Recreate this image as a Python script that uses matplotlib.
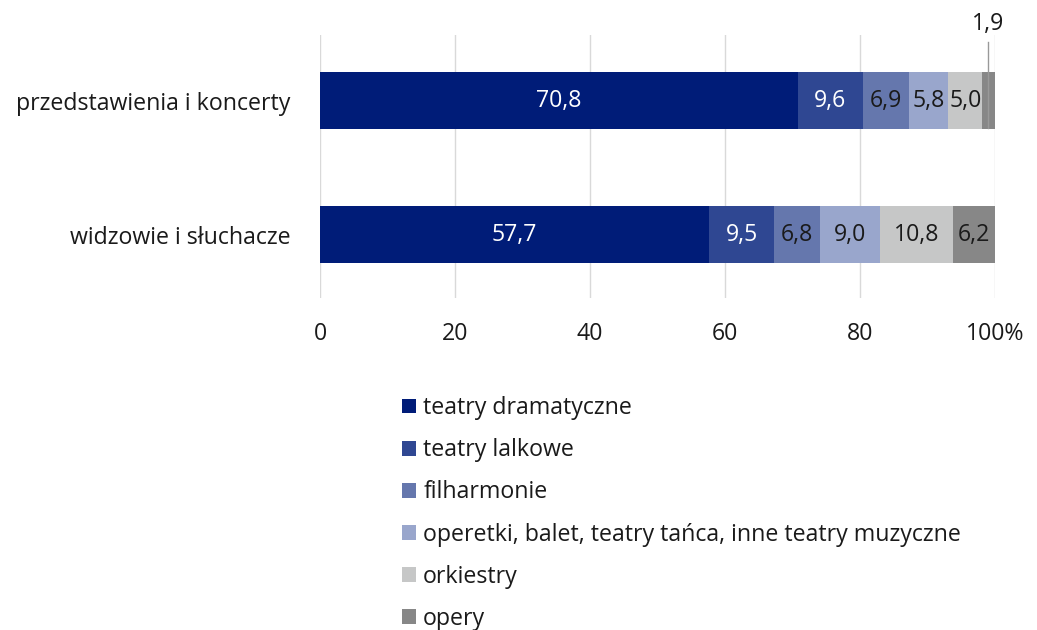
import matplotlib
matplotlib.use("Agg")
import matplotlib.pyplot as plt
from matplotlib.patches import Patch

categories = ["przedstawienia i koncerty", "widzowie i słuchacze"]
series = ["teatry dramatyczne", "teatry lalkowe", "filharmonie",
          "operetki, balet, teatry tańca, inne teatry muzyczne", "orkiestry", "opery"]
values = [
    [70.8, 57.7],
    [9.6, 9.5],
    [6.9, 6.8],
    [5.8, 9.0],
    [5.0, 10.8],
    [1.9, 6.2],
]
colors = ["#001c78", "#2f4792", "#6577ad", "#99a6cc", "#c6c7c7", "#878787"]
text_colors = ["white", "white", "#1a1a1a", "#1a1a1a", "#1a1a1a", "#1a1a1a"]
xticks = [0, 20, 40, 60, 80, 100]
xticklabels = ["0", "20", "40", "60", "80", "100%"]

FS = 16.7
plt.rcParams['font.family'] = ['Open Sans', 'DejaVu Sans']
fig = plt.figure(figsize=(10.37, 6.3), dpi=100)
ax = fig.add_axes([320/1037, 1-298/630, 675/1037, 263/630])

ypos = [0, 1]
left = [0.0, 0.0]
bh = 0.425
for i, (name, vals) in enumerate(zip(series, values)):
    ax.barh(ypos, vals, left=left, height=bh, color=colors[i], label=name, zorder=3)
    for j, v in enumerate(vals):
        cx = left[j] + v/2
        lab = f"{v:.1f}".replace(".", ",")
        if v < 3:
            ax.plot([cx - 0.1, cx - 0.1], [-0.44, ypos[j] + bh/2 - 0.01],
                    color="#999999", lw=1, zorder=5, clip_on=False)
            ax.text(cx - 0.1, -0.485, lab, ha="center", va="bottom",
                    fontsize=FS, color="#1a1a1a", clip_on=False)
        else:
            ax.text(cx, ypos[j], lab, ha="center", va="center",
                    fontsize=FS, color=text_colors[i], zorder=4)
    left = [l + v for l, v in zip(left, vals)]

ax.set_ylim(1.47, -0.49)
ax.set_xlim(0, 100)
ax.set_xticks(xticks)
ax.set_xticklabels(xticklabels, fontsize=FS, color="#1a1a1a")
ax.set_yticks(ypos)
ax.set_yticklabels(categories, fontsize=FS, color="#1a1a1a")
ax.tick_params(axis="both", length=0)
ax.tick_params(axis="x", pad=17)
ax.tick_params(axis="y", pad=21.5)
ax.grid(axis="x", color="#d9d9d9", lw=1, zorder=0)
for s in ax.spines.values():
    s.set_visible(False)

handles = [Patch(facecolor=c, edgecolor="none") for c in colors]
fig.legend(handles, series, loc="upper left", bbox_to_anchor=(393/1037, 1-387/630),
           frameon=False, fontsize=FS, handlelength=0.6, handleheight=0.6,
           handletextpad=0.3, labelspacing=0.78, labelcolor="#1a1a1a",
           borderaxespad=0, borderpad=0.4)

fig.savefig("out.png", dpi=100, facecolor="white")
